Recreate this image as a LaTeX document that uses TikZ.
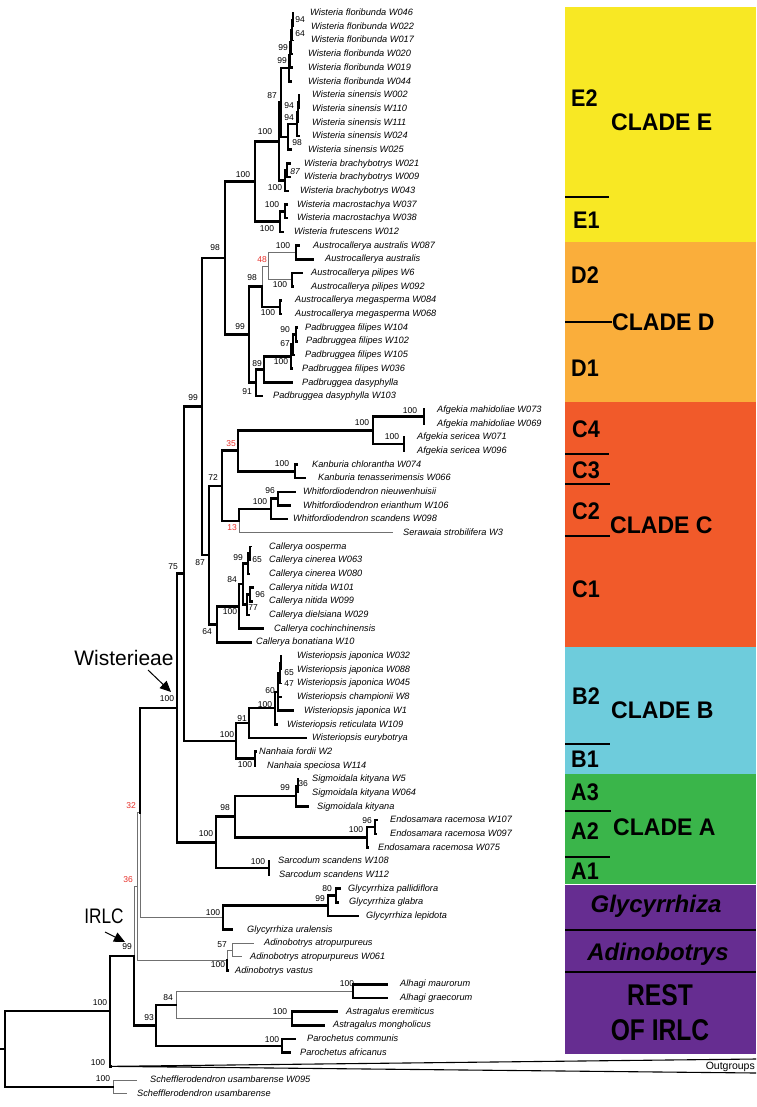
\documentclass[tikz,border=0pt]{standalone}
\usepackage{fontspec}
\setmainfont{Liberation Sans}
\newfontfamily\panelfont[FakeStretch=0.9]{Liberation Sans}
\newfontfamily\cladefont[FakeStretch=0.96]{Liberation Sans}
\newfontfamily\restfont[FakeStretch=0.82]{Liberation Sans}
\usetikzlibrary{calc,arrows.meta}
\definecolor{cE}{HTML}{F8E824}
\definecolor{cD}{HTML}{FAAE3B}
\definecolor{cC}{HTML}{F15A2A}
\definecolor{cB}{HTML}{6ECCDC}
\definecolor{cA}{HTML}{3AB54A}
\definecolor{cP}{HTML}{662D91}
\definecolor{redlab}{HTML}{E8302A}
\definecolor{greyline}{HTML}{707070}
\newcommand\ry[1]{13+(#1-1)*13.68}
\newcommand\LF[5]{\coordinate (#1) at (#3,{\ry{#2}});
  \node[leaf] (#1t) at (#4,{\ry{#2}}) {#5};}
\newcommand\IN[4]{\path let \p1=(#3), \p2=(#4) in (#2pt,{(\y1+\y2)/2}) coordinate (#1);}
\newcommand\BR[3]{\foreach \ch in {#3} {\draw[#1] (#2) |- (\ch);}}
\newcommand\SL[4]{\node[sup] (#1) at (#2,#3) {#4};}
\newcommand\RL[4]{\node[sup,text=redlab] (#1) at (#2,#3) {#4};}
\begin{document}
\begin{tikzpicture}[x=1pt,y=-1pt,
  leaf/.style={anchor=mid west, inner sep=0pt, font=\fontsize{9.2}{10}\selectfont\itshape},
  sup/.style={inner sep=0pt, font=\fontsize{8.5}{9}\selectfont},
  tk/.style={line width=2.6pt, line cap=rect, line join=miter},
  tb/.style={line width=1.2pt},
  tn/.style={line width=1pt, draw=greyline},
  sub/.style={anchor=west, inner sep=0pt, font=\panelfont\fontsize{24}{26}\selectfont\bfseries},
  clade/.style={anchor=west, inner sep=0pt, font=\cladefont\fontsize{24}{26}\selectfont\bfseries},
  sep/.style={line width=1.6pt},
]
\useasboundingbox (0,0) rectangle (756,1107);
\fill[white] (0,0) rectangle (756,1107);

% ---------- right panel ----------
\fill[cE] (565,7) rectangle (756,242);
\fill[cD] (565,242) rectangle (756,402);
\fill[cC] (565,402) rectangle (756,647);
\fill[cB] (565,647) rectangle (756,774);
\fill[cA] (565,774) rectangle (756,884);
\fill[cP] (565,885) rectangle (756,1054);
\draw[sep] (565,197) -- (609,197);
\draw[sep] (565,454) -- (609,454);
\draw[sep] (565,484) -- (610,484);
\draw[sep] (565,536) -- (610,536);
\draw[sep] (565,744) -- (610,744);
\draw[sep] (565,811) -- (611,811);
\draw[sep] (565,857) -- (610,857);
\draw[line width=2pt] (565,930) -- (756,930);
\draw[line width=2pt] (565,972) -- (756,972);
\node[sub] (pE2) at (571,98) {E2};
\node[clade] (pCE) at (611,122) {CLADE E};
\node[sub] (pE1) at (573,220) {E1};
\node[sub] (pD2) at (571,275) {D2};
\node[clade] (pCD) at (612,322) {CLADE D};
\coordinate (dl) at (565,322);
\draw[sep] (dl) -- (pCD.west);
\node[sub] (pD1) at (571,368) {D1};
\node[sub] (pC4) at (572,429) {C4};
\node[sub] (pC3) at (572,470) {C3};
\node[sub] (pC2) at (572,511) {C2};
\node[clade] (pCC) at (610,525) {CLADE C};
\node[sub] (pC1) at (572,589) {C1};
\node[sub] (pB2) at (572,696) {B2};
\node[clade] (pCB) at (611,710) {CLADE B};
\node[sub] (pB1) at (571,759) {B1};
\node[sub] (pA3) at (571,792) {A3};
\node[sub] (pA2) at (571,831) {A2};
\node[clade] (pCA) at (613,827) {CLADE A};
\node[sub] (pA1) at (571,871) {A1};
\node[anchor=base, inner sep=0pt, font=\fontsize{24}{26}\selectfont\bfseries\itshape] (pGly) at (656,912) {Glycyrrhiza};
\node[anchor=base, inner sep=0pt, font=\fontsize{24}{26}\selectfont\bfseries\itshape] (pAdi) at (658,960) {Adinobotrys};
\node[anchor=base, inner sep=0pt, font=\restfont\fontsize{30}{32}\selectfont\bfseries] (pRest) at (660,1005) {REST};
\node[anchor=base, inner sep=0pt, font=\restfont\fontsize{30}{32}\selectfont\bfseries] (pOf) at (660,1040) {OF IRLC};

% ---------- leaves ----------
\LF{L1}{1}{294}{310}{Wisteria floribunda W046}
\LF{L2}{2}{294}{311}{Wisteria floribunda W022}
\LF{L3}{3}{294}{311}{Wisteria floribunda W017}
\LF{L4}{4}{292}{308}{Wisteria floribunda W020}
\LF{L5}{5}{292}{308}{Wisteria floribunda W019}
\LF{L6}{6}{291}{308}{Wisteria floribunda W044}
\LF{L7}{7}{300}{312}{Wisteria sinensis W002}
\LF{L8}{8}{300}{312}{Wisteria sinensis W110}
\LF{L9}{9}{299}{312}{Wisteria sinensis W111}
\LF{L10}{10}{299}{312}{Wisteria sinensis W024}
\LF{L11}{11}{291}{308}{Wisteria sinensis W025}
\LF{L12}{12}{290}{304}{Wisteria brachybotrys W021}
\LF{L13}{13}{290}{304}{Wisteria brachybotrys W009}
\LF{L14}{14}{288}{300}{Wisteria brachybotrys W043}
\LF{L15}{15}{287}{297}{Wisteria macrostachya W037}
\LF{L16}{16}{287}{297}{Wisteria macrostachya W038}
\LF{L17}{17}{283}{294}{Wisteria frutescens W012}
\LF{L18}{18}{299}{313}{Austrocallerya australis W087}
\LF{L19}{19}{313}{325}{Austrocallerya australis}
\LF{L20}{20}{302}{311}{Austrocallerya pilipes W6}
\LF{L21}{21}{293}{311}{Austrocallerya pilipes W092}
\LF{L22}{22}{281}{295}{Austrocallerya megasperma W084}
\LF{L23}{23}{281}{295}{Austrocallerya megasperma W068}
\LF{L24}{24}{297}{305}{Padbruggea filipes W104}
\LF{L25}{25}{297}{306}{Padbruggea filipes W102}
\LF{L26}{26}{294}{305}{Padbruggea filipes W105}
\LF{L27}{27}{292}{302}{Padbruggea filipes W036}
\LF{L28}{28}{292}{302}{Padbruggea dasyphylla}
\LF{L29}{29}{262}{273}{Padbruggea dasyphylla W103}
\LF{L30}{30}{424}{437}{Afgekia mahidoliae W073}
\LF{L31}{31}{424}{437}{Afgekia mahidoliae W069}
\LF{L32}{32}{404}{417}{Afgekia sericea W071}
\LF{L33}{33}{404}{417}{Afgekia sericea W096}
\LF{L34}{34}{297}{312}{Kanburia chlorantha W074}
\LF{L35}{35}{305}{318}{Kanburia tenasserimensis W066}
\LF{L36}{36}{295}{303}{Whitfordiodendron nieuwenhuisii}
\LF{L37}{37}{290}{303}{Whitfordiodendron erianthum W106}
\LF{L38}{38}{287}{293}{Whitfordiodendron scandens W098}
\LF{L39}{39}{393}{403}{Serawaia strobilifera W3}
\LF{L40}{40}{252}{269}{Callerya oosperma}
\LF{L41}{41}{251}{269}{Callerya cinerea W063}
\LF{L42}{42}{249}{269}{Callerya cinerea W080}
\LF{L43}{43}{253}{269}{Callerya nitida W101}
\LF{L44}{44}{252}{269}{Callerya nitida W099}
\LF{L45}{45}{249}{269}{Callerya dielsiana W029}
\LF{L46}{46}{263}{274}{Callerya cochinchinensis}
\LF{L47}{47}{251}{256}{Callerya bonatiana W10}
\LF{L48}{48}{282}{297}{Wisteriopsis japonica W032}
\LF{L49}{49}{282}{297}{Wisteriopsis japonica W088}
\LF{L50}{50}{282}{297}{Wisteriopsis japonica W045}
\LF{L51}{51}{281}{297}{Wisteriopsis championii W8}
\LF{L52}{52}{293}{304}{Wisteriopsis japonica W1}
\LF{L53}{53}{277}{287}{Wisteriopsis reticulata W109}
\LF{L54}{54}{306}{312}{Wisteriopsis eurybotrya}
\LF{L55}{55}{256}{259}{Nanhaia fordii W2}
\LF{L56}{56}{255}{267}{Nanhaia speciosa W114}
\LF{L57}{57}{299}{312}{Sigmoidala kityana W5}
\LF{L58}{58}{298}{312}{Sigmoidala kityana W064}
\LF{L59}{59}{308}{317}{Sigmoidala kityana}
\LF{L60}{60}{377}{390}{Endosamara racemosa W107}
\LF{L61}{61}{376}{390}{Endosamara racemosa W097}
\LF{L62}{62}{368}{378}{Endosamara racemosa W075}
\LF{L63}{63}{269}{278}{Sarcodum scandens W108}
\LF{L64}{64}{269}{279}{Sarcodum scandens W112}
\LF{L65}{65}{340}{348}{Glycyrrhiza pallidiflora}
\LF{L66}{66}{338}{349}{Glycyrrhiza glabra}
\LF{L67}{67}{358}{366}{Glycyrrhiza lepidota}
\LF{L68}{68}{232}{247}{Glycyrrhiza uralensis}
\LF{L69}{69}{254}{264}{Adinobotrys atropurpureus}
\LF{L70}{70}{242}{250}{Adinobotrys atropurpureus W061}
\LF{L71}{71}{228}{235}{Adinobotrys vastus}
\LF{L72}{72}{387}{400}{Alhagi maurorum}
\LF{L73}{73}{387}{400}{Alhagi graecorum}
\LF{L74}{74}{337}{346}{Astragalus eremiticus}
\LF{L75}{75}{324}{333}{Astragalus mongholicus}
\LF{L76}{76}{295}{307}{Parochetus communis}
\LF{L77}{77}{290}{300}{Parochetus africanus}
\LF{L79}{79}{137}{150}{Schefflerodendron usambarense W095}
\LF{L80}{80}{127}{137}{Schefflerodendron usambarense}
\coordinate (OG) at (111,{\ry{78}});

% ---------- internal nodes ----------
\IN{F1}{293}{L1}{L2}
\IN{F2}{292}{F1}{L3}
\IN{F3}{291}{F2}{L4}
\IN{F4}{290}{F3}{L5}
\IN{FN}{289}{F4}{L6}
\IN{SC}{299}{L7}{L8}
\IN{S94}{298}{SC}{L9}
\IN{SB}{297}{S94}{L10}
\IN{SN}{288}{SB}{L11}
\IN{N87}{281}{FN}{SN}
\IN{BB}{287}{L12}{L13}
\IN{BN}{285}{BB}{L14}
\IN{E2}{279}{N87}{BN}
\IN{MN}{285}{L15}{L16}
\IN{E1}{280}{MN}{L17}
\IN{WIS}{255}{E2}{E1}
\IN{AU}{296}{L18}{L19}
\IN{PI}{292}{L20}{L21}
\IN{N48}{268}{AU}{PI}
\IN{MG}{280}{L22}{L23}
\IN{AUS}{262}{N48}{MG}
\IN{P90}{296}{L24}{L25}
\IN{P67}{293}{P90}{L26}
\IN{P100}{291}{P67}{L27}
\IN{P89}{264}{P100}{L28}
\IN{P91}{256}{P89}{L29}
\IN{DN}{249}{AUS}{P91}
\IN{N98}{225}{WIS}{DN}
\IN{MA}{424}{L30}{L31}
\IN{SE}{404}{L32}{L33}
\IN{AF}{373}{MA}{SE}
\IN{KA}{295}{L34}{L35}
\IN{N35}{238}{AF}{KA}
\IN{W96}{278}{L36}{L37}
\IN{WH}{271}{W96}{L38}
\IN{N13}{239}{WH}{L39}
\IN{N72}{222}{N35}{N13}
\IN{C65}{250}{L40}{L41}
\IN{C99}{248}{C65}{L42}
\IN{C96}{250}{L43}{L44}
\IN{C77}{247}{C96}{L45}
\IN{C84}{243}{C99}{C77}
\IN{C100}{239}{C84}{L46}
\IN{C64}{217}{C100}{L47}
\IN{N87c}{209}{N72}{C64}
\IN{N99}{202}{N98}{N87c}
\IN{J65}{281}{L48}{L49}
\IN{J47}{280}{J65}{L50}
\IN{J60}{278}{J47}{L52}
\IN{JW}{275}{J60}{L53}
\IN{N91}{249}{JW}{L54}
\IN{NA}{255}{L55}{L56}
\IN{BN2}{236}{N91}{NA}
\IN{N75}{184}{N99}{BN2}
\IN{S36}{298}{L57}{L58}
\IN{SG}{296}{S36}{L59}
\IN{EN96}{375}{L60}{L61}
\IN{EN}{367}{EN96}{L62}
\IN{A98}{235}{SG}{EN}
\IN{SA2}{269}{L63}{L64}
\IN{AN}{216}{A98}{SA2}
\IN{WIST}{177}{N75}{AN}
\IN{G80}{336}{L65}{L66}
\IN{G99}{328}{G80}{L67}
\IN{GN}{223}{G99}{L68}
\IN{N32}{140}{WIST}{GN}
\IN{AD57}{232}{L69}{L70}
\IN{AD}{227}{AD57}{L71}
\IN{N36}{137}{N32}{AD}
\IN{AL}{353}{L72}{L73}
\IN{AS}{292}{L74}{L75}
\IN{N84}{176}{AL}{AS}
\IN{PA}{282}{L76}{L77}
\IN{N93}{156}{N84}{PA}
\IN{IRLC}{134}{N36}{N93}
\IN{N110}{110}{IRLC}{OG}
\IN{SCH}{113}{L79}{L80}
\IN{ROOT}{5}{N110}{SCH}
\path (ROOT) ++(-5,0) coordinate (RS);

% ---------- branches ----------
\BR{tn}{N48}{AU,PI}
\BR{tn}{AUS}{N48}
\BR{tn}{N13}{L39}
\BR{tn}{N32}{GN}
\BR{tn}{AD57}{L69,L70}
\BR{tn}{AD}{AD57}
\BR{tn}{N36}{N32,AD}
\BR{tn}{N84}{AL,AS}
\BR{tn}{IRLC}{N36}
\BR{tn}{SCH}{L79,L80}
\BR{tb}{F1}{L1,L2}
\BR{tb}{F2}{F1,L3}
\BR{tk}{F3}{F2,L4}
\BR{tk}{F4}{F3,L5}
\BR{tk}{FN}{F4,L6}
\BR{tb}{SC}{L7,L8}
\BR{tb}{S94}{SC,L9}
\BR{tk}{SB}{S94,L10}
\BR{tk}{SN}{SB,L11}
\BR{tk}{N87}{FN,SN}
\BR{tk}{BB}{L12,L13}
\BR{tk}{BN}{BB,L14}
\BR{tk}{E2}{N87,BN}
\BR{tk}{MN}{L15,L16}
\BR{tk}{E1}{MN,L17}
\BR{tk}{WIS}{E2,E1}
\BR{tk}{AU}{L18,L19}
\BR{tk}{PI}{L20,L21}
\BR{tk}{MG}{L22,L23}
\BR{tk}{AUS}{MG}
\BR{tk}{P90}{L24,L25}
\BR{tk}{P67}{P90,L26}
\BR{tk}{P100}{P67,L27}
\BR{tk}{P89}{P100,L28}
\BR{tk}{P91}{P89,L29}
\BR{tk}{DN}{AUS,P91}
\BR{tk}{N98}{WIS,DN}
\BR{tk}{MA}{L30,L31}
\BR{tk}{SE}{L32,L33}
\BR{tk}{AF}{MA,SE}
\BR{tk}{KA}{L34,L35}
\BR{tk}{N35}{AF,KA}
\BR{tk}{W96}{L36,L37}
\BR{tk}{WH}{W96,L38}
\BR{tk}{N13}{WH}
\BR{tk}{N72}{N35,N13}
\BR{tb}{C65}{L40,L41}
\BR{tk}{C99}{C65,L42}
\BR{tk}{C96}{L43,L44}
\BR{tk}{C77}{C96,L45}
\BR{tk}{C84}{C99,C77}
\BR{tk}{C100}{C84,L46}
\BR{tk}{C64}{C100,L47}
\BR{tk}{N87c}{N72,C64}
\BR{tk}{N99}{N98,N87c}
\BR{tb}{J65}{L48,L49}
\BR{tb}{J47}{J65,L50}
\BR{tk}{J60}{J47,L51,L52}
\BR{tk}{JW}{J60,L53}
\BR{tk}{N91}{JW,L54}
\BR{tk}{NA}{L55,L56}
\BR{tk}{BN2}{N91,NA}
\BR{tk}{N75}{N99,BN2}
\BR{tb}{S36}{L57,L58}
\BR{tk}{SG}{S36,L59}
\BR{tk}{EN96}{L60,L61}
\BR{tk}{EN}{EN96,L62}
\BR{tk}{A98}{SG,EN}
\BR{tk}{SA2}{L63,L64}
\BR{tk}{AN}{A98,SA2}
\BR{tk}{WIST}{N75,AN}
\BR{tk}{G80}{L65,L66}
\BR{tk}{G99}{G80,L67}
\BR{tk}{GN}{G99,L68}
\BR{tk}{N32}{WIST}
\BR{tk}{AD}{L71}
\BR{tk}{AL}{L72,L73}
\BR{tk}{AS}{L74,L75}
\BR{tk}{PA}{L76,L77}
\BR{tk}{N93}{N84,PA}
\BR{tk}{IRLC}{N93}
\BR{tk}{N110}{IRLC,OG}
\BR{tk}{ROOT}{N110,SCH}
\draw[tb] (RS) -- (ROOT);
\coordinate (OGt) at (756,1059);
\coordinate (OGb) at (756,1073);
\draw[line width=1.1pt] (OGt) -- (OG) -- (OGb);
\node[anchor=base east, inner sep=0pt, font=\fontsize{10.5}{12}\selectfont] (outg) at (755,1069) {Outgroups};

% ---------- support values ----------
\SL{s1}{300}{20}{94}
\SL{s2}{300}{34}{64}
\SL{s3}{283}{48}{99}
\SL{s4}{282}{61}{99}
\SL{s5}{272}{96}{87}
\SL{s6}{289}{106}{94}
\SL{s7}{289}{118}{94}
\SL{s8}{265}{132}{100}
\SL{s9}{297}{143}{98}
\node[sup,font=\fontsize{8.5}{9}\selectfont\itshape] (s10) at (295,172) {87};
\SL{s11}{275}{188}{100}
\SL{s12}{243}{175}{100}
\SL{s13}{272}{205}{100}
\SL{s14}{267}{229}{100}
\SL{s15}{215}{248}{98}
\SL{s16}{283}{246}{100}
\RL{s17}{262}{260}{48}
\SL{s18}{252}{278}{98}
\SL{s19}{280}{285}{100}
\SL{s20}{268}{313}{100}
\SL{s21}{240}{327}{99}
\SL{s22}{285}{330}{90}
\SL{s23}{285}{344}{67}
\SL{s24}{257}{364}{89}
\SL{s25}{281}{362}{100}
\SL{s26}{247}{392}{91}
\SL{s27}{193}{398}{99}
\SL{s28}{410}{411}{100}
\SL{s29}{362}{423}{100}
\SL{s30}{392}{437}{100}
\RL{s31}{231}{444}{35}
\SL{s32}{282}{464}{100}
\SL{s33}{213}{478}{72}
\SL{s34}{270}{491}{96}
\SL{s35}{260}{502}{100}
\RL{s36}{232}{528}{13}
\SL{s37}{238}{558}{99}
\SL{s38}{257}{560}{65}
\SL{s39}{200}{563}{87}
\SL{s40}{173}{567}{75}
\SL{s41}{232}{580}{84}
\SL{s42}{260}{595}{96}
\SL{s43}{253}{608}{77}
\SL{s44}{230}{612}{100}
\SL{s45}{207}{632}{64}
\SL{s46}{289}{673}{65}
\SL{s47}{289}{684}{47}
\SL{s48}{270}{691}{60}
\SL{s49}{167}{699}{100}
\SL{s50}{265}{705}{100}
\SL{s51}{242}{719}{91}
\SL{s52}{227}{735}{100}
\SL{s53}{245}{765}{100}
\SL{s54}{285}{788}{99}
\SL{s55}{303}{784}{36}
\RL{s56}{131}{806}{32}
\SL{s57}{225}{808}{98}
\SL{s58}{367}{821}{96}
\SL{s59}{356}{830}{100}
\SL{s60}{206}{834}{100}
\SL{s61}{258}{862}{100}
\RL{s62}{128}{880}{36}
\SL{s63}{327}{889}{80}
\SL{s64}{320}{899}{99}
\SL{s65}{213}{913}{100}
\SL{s66}{222}{945}{57}
\SL{s67}{127}{947}{99}
\SL{s68}{218}{965}{100}
\SL{s69}{347}{984}{100}
\SL{s70}{168}{998}{84}
\SL{s71}{280}{1012}{100}
\SL{s72}{149}{1018}{93}
\SL{s73}{272}{1040}{100}
\SL{s74}{100}{1003}{100}
\SL{s75}{98}{1063}{100}
\SL{s76}{103}{1079}{100}

% ---------- annotations ----------
\node[anchor=base, inner sep=0pt, font=\fontsize{21}{24}\selectfont] (wlab) at (124,665) {Wisterieae};
\coordinate (wa1) at (148,670);
\coordinate (wa2) at (171,692);
\draw[line width=1pt, -{Triangle[length=11pt,width=10pt]}] (wa1) -- (wa2);
\node[anchor=base, inner sep=0pt, font=\restfont\fontsize{21}{24}\selectfont] (ilab) at (104,923) {IRLC};
\coordinate (ia1) at (105,932);
\coordinate (ia2) at (125,942);
\draw[line width=1pt, -{Triangle[length=11pt,width=10pt]}] (ia1) -- (ia2);
\end{tikzpicture}
\end{document}
